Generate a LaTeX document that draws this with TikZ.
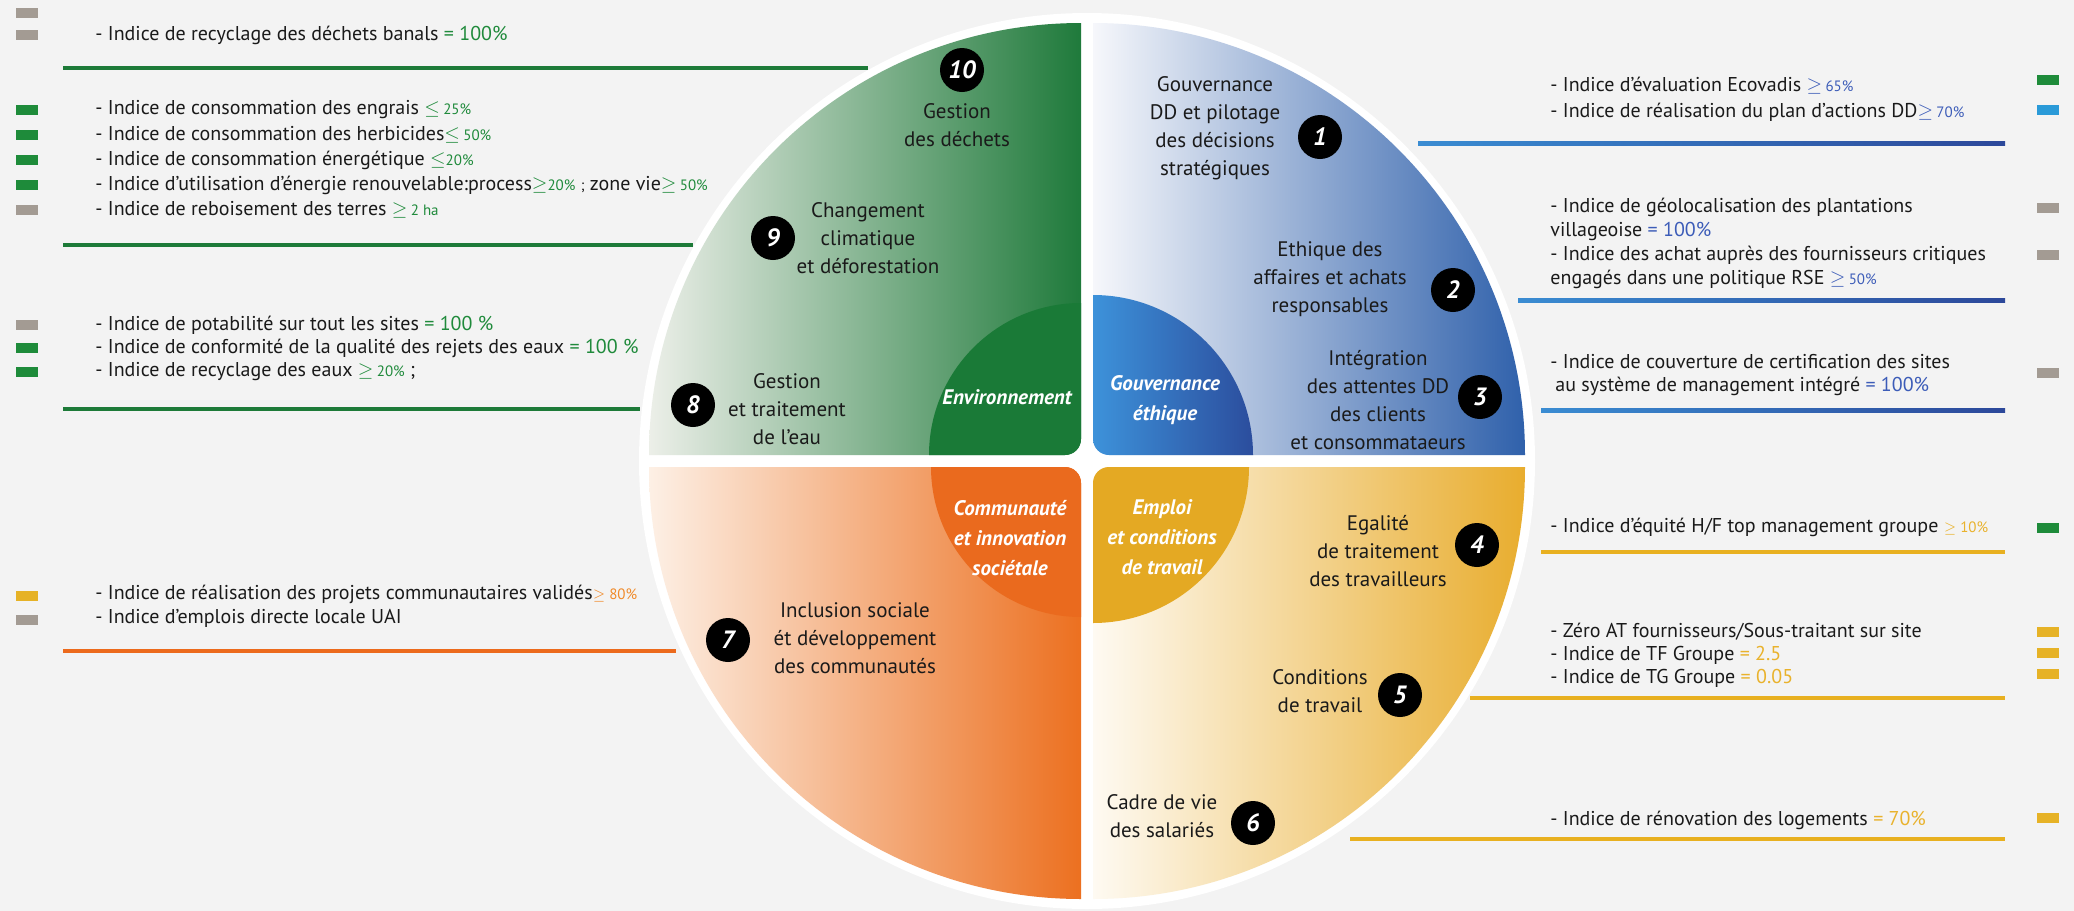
\documentclass[tikz,border=0pt]{standalone}
\usepackage{fontspec}
\setmainfont{PT Sans}
\definecolor{bg}{HTML}{F3F3F3}
\definecolor{gL}{HTML}{EEF0EA}
\definecolor{gM}{HTML}{8FAE8C}
\definecolor{gR}{HTML}{1F7A3B}
\definecolor{gIn}{HTML}{1A7A37}
\definecolor{bL}{HTML}{F6F7FB}
\definecolor{bM}{HTML}{B4C0DE}
\definecolor{bR}{HTML}{2D5FAA}
\definecolor{bInL}{HTML}{3D92DA}
\definecolor{bInR}{HTML}{2B4C9C}
\definecolor{oL}{HTML}{FDF1E7}
\definecolor{oM}{HTML}{F4AE72}
\definecolor{oR}{HTML}{EC7020}
\definecolor{oIn}{HTML}{EA6A1E}
\definecolor{yL}{HTML}{FEFAF2}
\definecolor{yM}{HTML}{F3D594}
\definecolor{yR}{HTML}{E8AC2C}
\definecolor{yIn}{HTML}{E4A923}
\definecolor{valg}{HTML}{1F8A3B}
\definecolor{valb}{HTML}{3C5CB8}
\definecolor{valy}{HTML}{E9B22C}
\definecolor{valo}{HTML}{F08A2A}
\definecolor{sqg}{HTML}{1E8B3A}
\definecolor{sqgray}{HTML}{A39B93}
\definecolor{sqy}{HTML}{E6B226}
\definecolor{sqb}{HTML}{2A9AD8}
\definecolor{lng}{HTML}{1D7A38}
\definecolor{lnb1}{HTML}{3A8CD2}
\definecolor{lnb2}{HTML}{2C489A}
\definecolor{lny}{HTML}{E8B020}
\definecolor{lno}{HTML}{EC6A1C}
\definecolor{txt}{HTML}{1A1A1A}
\newcommand\gv[1]{\textcolor{valg}{#1}}
\newcommand\bv[1]{\textcolor{valb}{#1}}
\newcommand\yv[1]{\textcolor{valy}{#1}}
\newcommand\ov[1]{\textcolor{valo}{#1}}
\newcommand\sm[1]{{\fontsize{7.5}{9}\selectfont #1}}
\newcommand\lsq[2]{\fill[#1] (16,{#2-5}) rectangle (38,{#2+5});}
\newcommand\rsq[2]{\fill[#1] (2037,{#2-5}) rectangle (2059,{#2+5});}
\begin{document}
\begin{tikzpicture}[x=0.5pt,y=-0.5pt,
  ind/.style={anchor=west,inner sep=0pt,text=txt,font=\fontsize{10}{12.5}\selectfont},
  lab/.style={align=center,inner sep=0pt,text=txt,font=\fontsize{10.5}{14}\selectfont},
  cat/.style={align=center,inner sep=0pt,text=white,font=\bfseries\itshape\fontsize{10.5}{15}\selectfont},
  num/.style={circle,fill=black,minimum size=22pt,inner sep=0pt,text=white,font=\bfseries\itshape\fontsize{12.5}{12.5}\selectfont},
  gline/.style={draw=lng,line width=2pt},
  yline/.style={draw=lny,line width=2pt},
  oline/.style={draw=lno,line width=2pt}]
\useasboundingbox (0,0) rectangle (2074,911);
\fill[bg] (0,0) rectangle (2074,911);
\fill[white] (1087,461) circle[radius=224pt];

% ---------- green quadrant
\begin{scope}
\clip[rounded corners=8pt] (500,-100) rectangle (1081,455);
\clip (1081,455) circle[radius=216pt];
\shade[left color=gL, middle color=gM, right color=gR] (645,20) rectangle (1081,455);
\fill[gIn] (1081,455) circle[radius=76pt];
\end{scope}
% ---------- blue quadrant
\begin{scope}
\clip[rounded corners=8pt] (1093,-100) rectangle (1700,455);
\clip (1093,455) circle[radius=216pt];
\shade[left color=bL, middle color=bM, right color=bR] (1093,20) rectangle (1530,455);
\begin{scope}
\clip (1093,455) circle[radius=80pt];
\shade[left color=bInL, right color=bInR] (1093,290) rectangle (1256,455);
\end{scope}
\end{scope}
% ---------- orange quadrant
\begin{scope}
\clip[rounded corners=8pt] (500,467) rectangle (1081,1100);
\clip (1081,467) circle[radius=216pt];
\shade[left color=oL, middle color=oM, right color=oR] (645,467) rectangle (1081,905);
\fill[oIn] (1081,467) circle[radius=75pt];
\end{scope}
% ---------- yellow quadrant
\begin{scope}
\clip[rounded corners=8pt] (1093,467) rectangle (1700,1100);
\clip (1093,467) circle[radius=216pt];
\shade[left color=yL, middle color=yM, right color=yR] (1093,467) rectangle (1530,905);
\fill[yIn] (1093,467) circle[radius=78pt];
\end{scope}

% ---------- separator lines
\draw[gline] (63,68) -- (868,68);
\draw[gline] (63,245) -- (693,245);
\draw[gline] (63,409) -- (640,409);
\draw[oline] (63,651) -- (676,651);
\shade[left color=lnb1,right color=lnb2] (1418,141) rectangle (2005,145);
\shade[left color=lnb1,right color=lnb2] (1518,298) rectangle (2005,302);
\shade[left color=lnb1,right color=lnb2] (1541,408) rectangle (2005,412);
\draw[yline] (1541,552) -- (2005,552);
\draw[yline] (1470,698) -- (2005,698);
\draw[yline] (1350,839) -- (2005,839);

% ---------- left squares
\lsq{sqgray}{13}
\lsq{sqgray}{35}
\lsq{sqg}{110}
\lsq{sqg}{135}
\lsq{sqg}{160}
\lsq{sqg}{185}
\lsq{sqgray}{210}
\lsq{sqgray}{325}
\lsq{sqg}{348}
\lsq{sqg}{372}
\lsq{sqy}{596}
\lsq{sqgray}{620}
% ---------- right squares
\rsq{sqg}{80}
\rsq{sqb}{110}
\rsq{sqgray}{208}
\rsq{sqgray}{255}
\rsq{sqgray}{373}
\rsq{sqg}{528}
\rsq{sqy}{632}
\rsq{sqy}{653}
\rsq{sqy}{674}
\rsq{sqy}{818}

% ---------- left texts
\node[ind] (a1) at (95,35) {- Indice de recyclage des déchets banals \gv{= 100\%}};
\node[ind] (b1) at (95,110) {- Indice de consommation des engrais \gv{$\leq$\,\sm{25\%}}};
\node[ind] (b2) at (95,135) {- Indice de consommation des herbicides\gv{$\leq$\,\sm{50\%}}};
\node[ind] (b3) at (95,160) {- Indice de consommation énergétique \gv{$\leq$\sm{20\%}}};
\node[ind] (b4) at (95,185) {- Indice d’utilisation d’énergie renouvelable:process\gv{$\geq$\sm{20\%}} \sm{;} zone vie\gv{$\geq$\,\sm{50\%}}};
\node[ind] (b5) at (95,210) {- Indice de reboisement des terres \gv{$\geq$\,\sm{2 ha}}};
\node[ind] (c1) at (95,325) {- Indice de potabilité sur tout les sites \gv{= 100 \%}};
\node[ind] (c2) at (95,348) {- Indice de conformité de la qualité des rejets des eaux \gv{= 100 \%}};
\node[ind] (c3) at (95,372) {- Indice de recyclage des eaux \gv{$\geq$\,\sm{20\%}} ;};
\node[ind] (d1) at (95,594) {- Indice de réalisation des projets communautaires validés\ov{\sm{$\geq$ 80\%}}};
\node[ind] (d2) at (95,618) {- Indice d’emplois directe locale UAI};

% ---------- right texts
\node[ind] (e1) at (1550,86) {- Indice d’évaluation Ecovadis \bv{$\geq$\,\sm{65\%}}};
\node[ind] (e2) at (1550,112) {- Indice de réalisation du plan d’actions DD\bv{$\geq$\,\sm{70\%}}};
\node[ind] (f1) at (1550,207) {- Indice de géolocalisation des plantations};
\node[ind] (f2) at (1550,231) {villageoise \bv{= 100\%}};
\node[ind] (f3) at (1550,255) {- Indice des achat auprès des fournisseurs critiques};
\node[ind] (f4) at (1550,279) {engagés dans une politique RSE \bv{$\geq$\,\sm{50\%}}};
\node[ind] (g1) at (1550,362) {- Indice de couverture de certification des sites};
\node[ind] (g2) at (1555,386) {au système de management intégré \bv{= 100\%}};
\node[ind] (h1) at (1550,527) {- Indice d’équité H/F top management groupe \yv{\sm{$\geq$ 10\%}}};
\node[ind] (i1) at (1550,632) {- Zéro AT fournisseurs/Sous-traitant sur site};
\node[ind] (i2) at (1550,655) {- Indice de TF Groupe \yv{= 2.5}};
\node[ind] (i3) at (1550,678) {- Indice de TG Groupe \yv{= 0.05}};
\node[ind] (j1) at (1550,820) {- Indice de rénovation des logements \yv{= 70\%}};

% ---------- category labels
\node[cat] (cEnv) at (1007,397) {Environnement};
\node[cat] (cGov) at (1165,400) {Gouvernance\\éthique};
\node[cat] (cCom) at (1010,538) {Communauté\\et innovation\\sociétale};
\node[cat] (cEmp) at (1162,537) {Emploi\\et conditions\\de travail};

% ---------- theme labels
\node[lab] (l1) at (1215,128) {Gouvernance\\DD et pilotage\\des décisions\\stratégiques};
\node[lab] (l2) at (1330,279) {Ethique des\\affaires et achats\\responsables};
\node[lab] (l3) at (1378,400) {Intégration\\des attentes DD\\des clients\\et consommataeurs};
\node[lab] (l4) at (1378,551) {Egalité\\de traitement\\des travailleurs};
\node[lab] (l5) at (1320,691) {Conditions\\de travail};
\node[lab] (l6) at (1162,816) {Cadre de vie\\des salariés};
\node[lab] (l7) at (855,638) {Inclusion sociale\\ét développement\\des communautés};
\node[lab] (l8) at (787,409) {Gestion\\et traitement\\de l’eau};
\node[lab] (l9) at (868,238) {Changement\\climatique\\et déforestation};
\node[lab] (l10) at (957,125) {Gestion\\des déchets};

% ---------- number badges
\node[num] (n1) at (1320,137) {1};
\node[num] (n2) at (1453,290) {2};
\node[num] (n3) at (1480,397) {3};
\node[num] (n4) at (1477,545) {4};
\node[num] (n5) at (1400,695) {5};
\node[num] (n6) at (1253,823) {6};
\node[num] (n7) at (728,640) {7};
\node[num] (n8) at (693,405) {8};
\node[num] (n9) at (773,238) {9};
\node[num] (n10) at (962,70) {10};
\end{tikzpicture}
\end{document}
